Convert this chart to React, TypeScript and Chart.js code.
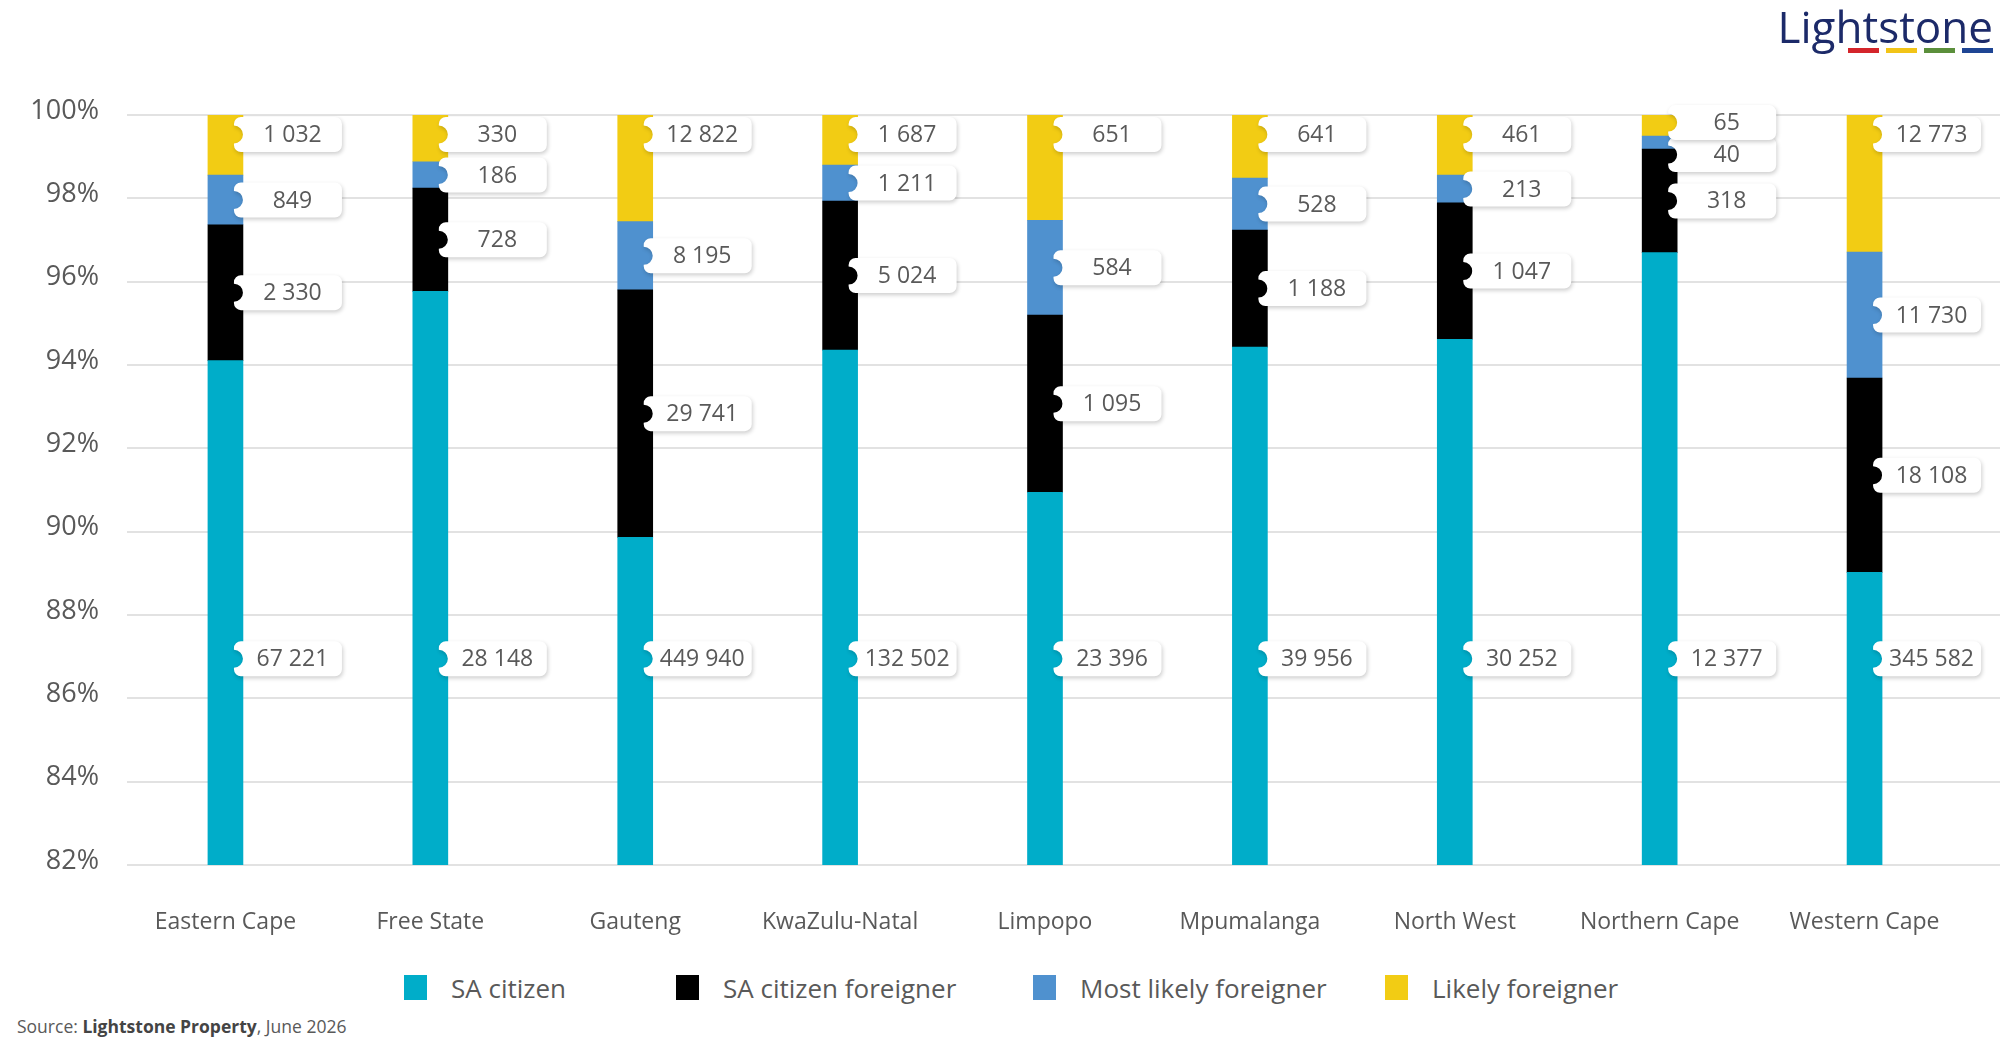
import React, { useEffect, useRef } from 'react';
import { Chart, registerables } from 'chart.js';

Chart.register(...registerables);

// data
const regions = [
  'Eastern Cape', 'Free State', 'Gauteng', 'KwaZulu-Natal', 'Limpopo',
  'Mpumalanga', 'North West', 'Northern Cape', 'Western Cape',
];
const saCitizen = [67221, 28148, 449940, 132502, 23396, 39956, 30252, 12377, 345582];
const saCitizenForeigner = [2330, 728, 29741, 5024, 1095, 1188, 1047, 318, 18108];
const mostLikelyForeigner = [849, 186, 8195, 1211, 584, 528, 213, 40, 11730];
const likelyForeigner = [1032, 330, 12822, 1687, 651, 641, 461, 65, 12773];
const seriesNames = ['SA citizen', 'SA citizen foreigner', 'Most likely foreigner', 'Likely foreigner'];
const yTicks = [82, 84, 86, 88, 90, 92, 94, 96, 98, 100];

const seriesColors = ['#00adc9', '#000000', '#4f91cf', '#f2cc14'];
const textGrey = '#595959';
const FONT = '"Open Sans", "Noto Sans", sans-serif';

const series = [saCitizen, saCitizenForeigner, mostLikelyForeigner, likelyForeigner];
const totals = regions.map((_, i) => series.reduce((s, arr) => s + arr[i], 0));

const fmt = (n: number) => String(n).replace(/\B(?=(\d{3})+(?!\d))/g, ' ');

// gridlines start a little right of the plot edge and run on to the canvas edge
const gridPlugin = {
  id: 'longGrid',
  beforeDatasetsDraw(chart: any) {
    const { ctx, chartArea, scales } = chart;
    ctx.save();
    ctx.strokeStyle = '#e2e2e2';
    ctx.lineWidth = 2;
    yTicks.forEach((v) => {
      const y = Math.round(scales.y.getPixelForValue(v));
      ctx.beginPath();
      ctx.moveTo(chartArea.left + 4, y);
      ctx.lineTo(chart.width, y);
      ctx.stroke();
    });
    ctx.restore();
  },
};

// white tag labels with a round notch where they touch the bar
const tagPlugin = {
  id: 'tagLabels',
  afterDatasetsDraw(chart: any) {
    const { ctx, chartArea } = chart;
    const boxW = 108, boxH = 35, notchR = 9, overlap = 9, minGap = 32, r = 7;
    const last = chart.data.datasets.length - 1;

    ctx.save();
    ctx.font = `23px ${FONT}`;
    ctx.textAlign = 'center';
    ctx.textBaseline = 'middle';

    regions.forEach((_, i) => {
      const items: any[] = chart.data.datasets.map((ds: any, d: number) => {
        const bar = chart.getDatasetMeta(d).data[i].getProps(['x', 'y', 'base', 'width'], true);
        const top = Math.max(Math.min(bar.y, bar.base), chartArea.top);
        const bottom = Math.min(Math.max(bar.y, bar.base), chartArea.bottom);
        let cy = (top + bottom) / 2;
        if (d === last) cy = chartArea.top + boxH / 2 + 2;
        else if (d === 0) cy = chartArea.top + chartArea.height * 0.725;
        return { cy, x: bar.x + bar.width / 2 - overlap, text: fmt(series[d][i]) };
      });

      // push overlapping tags apart
      const sorted = [...items].sort((a, b) => a.cy - b.cy);
      for (let pass = 0; pass < 6; pass++) {
        for (let k = 1; k < sorted.length; k++) {
          const gap = sorted[k].cy - sorted[k - 1].cy;
          if (gap < minGap) {
            const half = (minGap - gap) / 2;
            sorted[k - 1].cy -= half;
            sorted[k].cy += half;
          }
        }
      }

      items.forEach((it) => {
        const x0 = it.x, y0 = it.cy - boxH / 2, x1 = x0 + boxW, y1 = y0 + boxH;
        ctx.save();
        ctx.shadowColor = 'rgba(0,0,0,0.2)';
        ctx.shadowBlur = 4;
        ctx.shadowOffsetX = 1;
        ctx.shadowOffsetY = 2;
        ctx.beginPath();
        ctx.moveTo(x0 + r, y0);
        ctx.lineTo(x1 - r, y0);
        ctx.arcTo(x1, y0, x1, y0 + r, r);
        ctx.lineTo(x1, y1 - r);
        ctx.arcTo(x1, y1, x1 - r, y1, r);
        ctx.lineTo(x0 + r, y1);
        ctx.arcTo(x0, y1, x0, y1 - r, r);
        ctx.lineTo(x0, it.cy + notchR);
        ctx.arc(x0, it.cy, notchR, Math.PI / 2, -Math.PI / 2, true);
        ctx.lineTo(x0, y0 + r);
        ctx.arcTo(x0, y0, x0 + r, y0, r);
        ctx.closePath();
        ctx.fillStyle = '#ffffff';
        ctx.fill();
        ctx.restore();
        ctx.fillStyle = textGrey;
        ctx.fillText(it.text, (x0 + notchR + x1) / 2, it.cy + 1);
      });
    });
    ctx.restore();
  },
};

const RegionChart: React.FC = () => {
  const canvasRef = useRef<HTMLCanvasElement>(null);

  useEffect(() => {
    if (!canvasRef.current) return;

    const datasets = series.map((arr, d) => ({
      label: seriesNames[d],
      data: arr.map((v, i) => (v / totals[i]) * 100),
      backgroundColor: seriesColors[d],
      borderWidth: 0,
      barThickness: 35,
    }));

    const config: any = {
      type: 'bar',
      data: { labels: regions, datasets },
      options: {
        responsive: false,
        animation: false,
        layout: { padding: { top: 115, right: 33, bottom: 0, left: 0 } },
        plugins: {
          legend: { display: false },
          tooltip: { enabled: false },
        },
        scales: {
          x: {
            stacked: true,
            grid: { display: false, drawTicks: false },
            border: { display: false },
            ticks: {
              color: textGrey,
              padding: 44,
              font: { family: FONT, size: 23 },
            },
            afterFit: (s: any) => { s.height = 95; },
          },
          y: {
            stacked: true,
            min: 82,
            max: 100,
            grid: { display: false, drawTicks: false },
            border: { display: false },
            ticks: {
              stepSize: 2,
              color: textGrey,
              padding: 24,
              labelOffset: -4,
              font: { family: FONT, size: 27 },
              callback: (v: any) => v + '%',
            },
            afterFit: (s: any) => { s.width = 123; },
          },
        },
      },
      plugins: [gridPlugin, tagPlugin],
    };

    const chart = new Chart(canvasRef.current, config);
    return () => chart.destroy();
  }, []);

  return <canvas ref={canvasRef} width={2000} height={960} style={{ position: 'absolute', left: 0, top: 0 }} />;
};

const legendWidths = [272, 357, 352, undefined];
const logoBars = ['#d4252b', '#f2c417', '#5b8f3b', '#1e4594'];

export default function App() {
  return (
    <div style={{ position: 'absolute', left: 0, top: 0, width: 2000, height: 1050, background: '#fff', fontFamily: FONT, overflow: 'hidden' }}>
      <RegionChart />

      {/* logo */}
      <div style={{ position: 'absolute', right: 7, top: 4, fontSize: 44, lineHeight: '44px', color: '#1c2a69' }}>
        Lightstone
      </div>
      <div style={{ position: 'absolute', right: 7, top: 48, display: 'flex', gap: 7 }}>
        {logoBars.map((c) => (
          <div key={c} style={{ width: 31, height: 5, background: c }} />
        ))}
      </div>

      {/* legend */}
      <div style={{ position: 'absolute', left: 404, top: 970, height: 35, display: 'flex', alignItems: 'center' }}>
        {seriesNames.map((name, d) => (
          <div key={name} style={{ display: 'flex', alignItems: 'center', width: legendWidths[d] }}>
            <div style={{ width: 23, height: 25, background: seriesColors[d], marginRight: 24 }} />
            <span style={{ fontSize: 26, color: textGrey, whiteSpace: 'nowrap' }}>{name}</span>
          </div>
        ))}
      </div>

      {/* source */}
      <div style={{ position: 'absolute', left: 17, top: 1014, fontSize: 17.5, color: textGrey }}>
        Source: <b style={{ color: '#444' }}>Lightstone Property</b>, June 2026
      </div>
    </div>
  );
}
